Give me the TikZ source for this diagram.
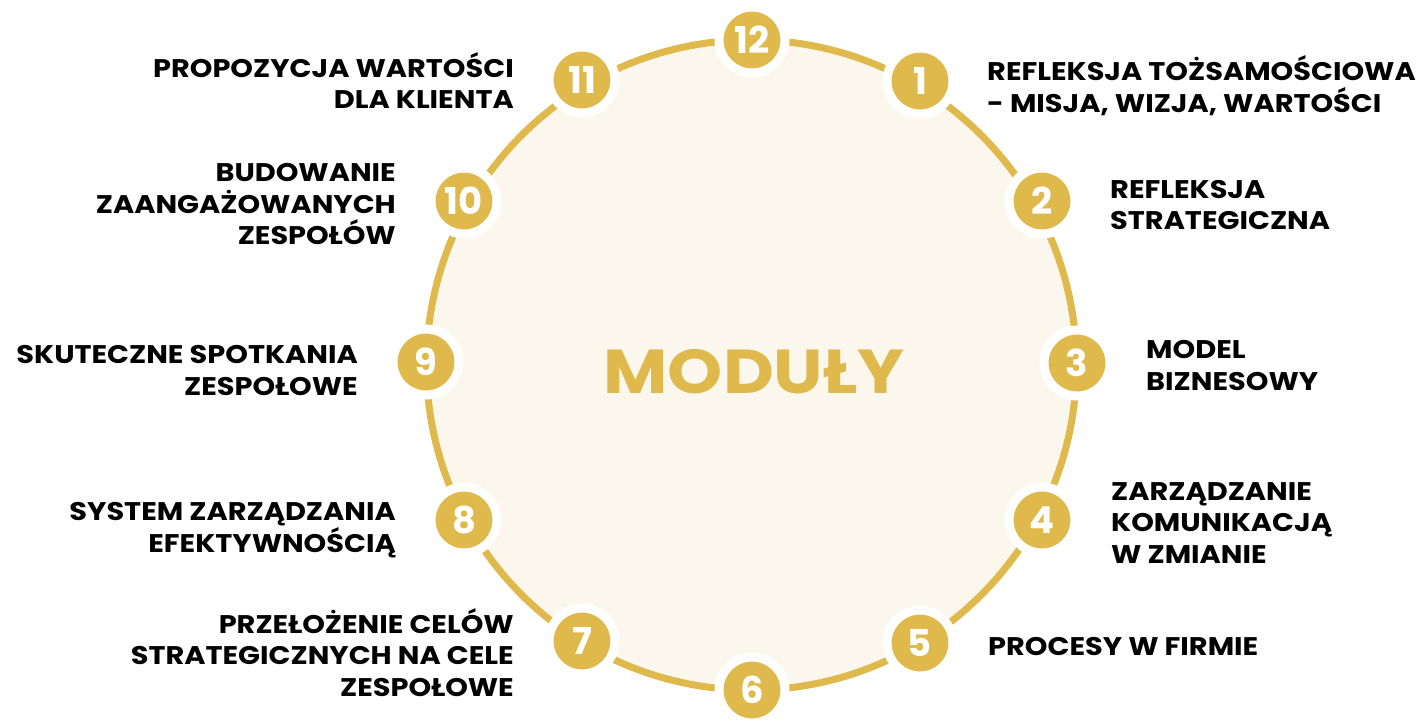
\documentclass[tikz,border=0pt]{standalone}
\usepackage{fontspec}
\setmainfont{Poppins}[FakeStretch=1.13]
\newfontfamily\numfont{Poppins}
\definecolor{gold}{HTML}{DFB94B}
\definecolor{cream}{HTML}{FBF7EC}
\newcommand\tstrut{\rule{0pt}{28pt}}
\begin{document}
\begin{tikzpicture}[x=1pt,y=-1pt,
  num/.style={circle,fill=gold,draw=white,line width=9pt,minimum size=66pt,inner sep=0pt,
    text=white,font=\numfont\bfseries\fontsize{37}{37}\selectfont},
  lblL/.style={anchor=north west,inner sep=0pt,align=left,font=\bfseries\fontsize{25.5}{31.5}\selectfont},
  lblR/.style={anchor=north east,inner sep=0pt,align=right,font=\bfseries\fontsize{25.5}{31.5}\selectfont}]
\useasboundingbox (0,0) rectangle (1423,720);
\fill[white] (0,0) rectangle (1423,720);
\draw[gold,line width=7pt,fill=cream] (751.5,365) circle[radius=325pt];
\node[text=gold,font=\bfseries\fontsize{62}{62}\selectfont,inner sep=0pt] (title) at (754,372) {MODUŁY};
\node[num] (n12) at (752,40) {12};
\node[num] (n1) at (920,81) {1};
\node[num] (n2) at (1042,201) {2};
\node[num] (n3) at (1077,363) {3};
\node[num] (n4) at (1042,520) {4};
\node[num] (n5) at (920,643) {5};
\node[num] (n6) at (752,690) {6};
\node[num] (n7) at (582,641) {7};
\node[num] (n8) at (464,520) {8};
\node[num] (n9) at (426,362) {9};
\node[num] (n10) at (464,201) {10};
\node[num] (n11) at (582,80) {11};
\node[lblL] (l1) at (987,80.5-28) {\tstrut REFLEKSJA TOŻSAMOŚCIOWA\\- MISJA, WIZJA, WARTOŚCI};
\node[lblL] (l2) at (1110,198-28) {\tstrut REFLEKSJA\\STRATEGICZNA};
\node[lblL] (l3) at (1146,358.5-28) {\tstrut MODEL\\BIZNESOWY};
\node[lblL] (l4) at (1111,500-28) {\tstrut ZARZĄDZANIE\\KOMUNIKACJĄ\\W ZMIANIE};
\node[lblL] (l5) at (988,655-28) {\tstrut PROCESY W FIRMIE};
\node[lblR] (l7) at (514,633-28) {\tstrut PRZEŁOŻENIE CELÓW\\STRATEGICZNYCH NA CELE\\ZESPOŁOWE};
\node[lblR] (l8) at (396,520.5-28) {\tstrut SYSTEM ZARZĄDZANIA\\EFEKTYWNOŚCIĄ};
\node[lblR] (l9) at (358,363.5-28) {\tstrut SKUTECZNE SPOTKANIA\\ZESPOŁOWE};
\node[lblR] (l10) at (396,181.5-28) {\tstrut BUDOWANIE\\ZAANGAŻOWANYCH\\ZESPOŁÓW};
\node[lblR] (l11) at (514,77-28) {\tstrut PROPOZYCJA WARTOŚCI\\DLA KLIENTA};
\end{tikzpicture}
\end{document}
